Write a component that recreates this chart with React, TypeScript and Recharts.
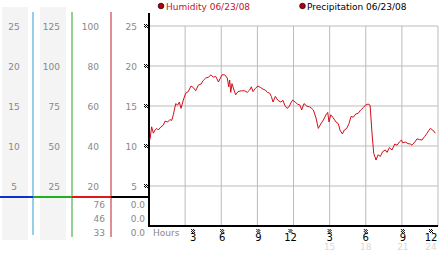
import React from 'react';
import { LineChart, Line, XAxis, YAxis, CartesianGrid, Customized } from 'recharts';

// humidity readings through the day: hour of day and value
const hours = [
  0.08, 0.22, 0.36, 0.5, 0.64, 0.77, 1.0, 1.19, 1.33, 1.55, 1.74, 1.89, 2.02, 2.22, 2.38, 2.52,
  2.66, 2.85, 3.05, 3.26, 3.49, 3.68, 3.88, 4.09, 4.32, 4.51, 4.71, 4.93, 5.15, 5.34, 5.54, 5.77,
  6.06, 6.29, 6.5, 6.62, 6.7, 6.79, 6.89, 7.06, 7.2, 7.39, 7.67, 7.95, 8.16, 8.36, 8.5, 8.64,
  8.83, 9.05, 9.28, 9.47, 9.66, 9.83, 10.02, 10.16, 10.3, 10.49, 10.71, 10.94, 11.13, 11.27, 11.46, 11.63,
  11.82, 11.94, 12.13, 12.32, 12.54, 12.68, 12.87, 13.1, 13.31, 13.51, 13.65, 13.87, 14.06, 14.26, 14.48, 14.7,
  14.84, 14.95, 15.09, 15.31, 15.53, 15.72, 15.86, 16.06, 16.22, 16.42, 16.61, 16.78, 16.97, 17.17, 17.38, 17.58,
  17.8, 17.97, 18.19, 18.36, 18.52, 18.66, 18.85, 19.02, 19.21, 19.41, 19.63, 19.77, 19.96, 20.18, 20.41, 20.6,
  20.79, 20.96, 21.07, 21.29, 21.51, 21.7, 21.84, 22.07, 22.26, 22.45, 22.67, 22.9, 23.09, 23.36, 23.56, 23.78,
];
const humidity = [
  10.8, 12.4, 11.6, 12.0, 12.2, 12.0, 12.4, 12.6, 13.1, 13.0, 13.3, 13.2, 13.9, 15.3, 15.1, 15.5,
  14.7, 15.75, 16.6, 16.8, 17.5, 17.3, 16.9, 17.6, 17.75, 18.2, 18.5, 18.6, 18.9, 18.6, 18.7, 18.0,
  18.9, 18.9, 18.5, 17.4, 18.25, 16.7, 17.8, 17.0, 16.4, 16.8, 16.9, 16.9, 16.7, 17.0, 17.4, 16.8,
  17.2, 17.5, 17.3, 17.1, 17.0, 16.7, 16.6, 16.2, 15.5, 16.2, 15.7, 15.5, 15.7, 15.1, 14.7, 14.9,
  15.5, 15.75, 15.5, 15.25, 15.1, 14.5, 15.3, 15.0, 14.9, 14.7, 14.5, 13.5, 12.2, 12.75, 13.25, 13.9,
  14.2, 13.0, 13.9, 13.5, 13.0, 12.8, 12.0, 11.5, 12.0, 12.2, 12.8, 13.7, 13.6, 14.0, 14.1, 14.5,
  14.8, 15.1, 15.25, 15.1, 11.6, 9.1, 8.25, 8.9, 8.7, 9.3, 9.5, 9.2, 9.8, 9.5, 10.25, 10.1,
  10.5, 10.75, 10.4, 10.5, 10.3, 10.25, 10.1, 10.5, 10.9, 10.8, 10.75, 11.2, 11.6, 12.2, 12.0, 11.6,
];

const xTicks = [3, 6, 9, 12, 15, 18, 21, 24];
const xTickLabels = ['3', '6', '9', '12', '3', '6', '9', '12'];
const xSubLabels = ['', '', '', '', '15', '18', '21', '24'];
const xLabelShift = [8, 1, 1, -3, 0, 0, 1, -7];

const ticksA = [5, 10, 15, 20, 25];
const ticksB = [25, 50, 75, 100, 125];
const ticksC = [20, 40, 60, 80, 100];
const ticksD = [5, 10, 15, 20, 25];

const humidityStats = ['76', '46', '33'];
const precipStats = ['0.0', '0.0', '0.0'];

const data = hours.map((h, i) => ({ h, humidity: humidity[i] }));

const FONT = '"DejaVu Sans", Verdana, sans-serif';

const Checker = ({ x, y }: { x: number; y: number }) => {
  const cells = [];
  for (let r = 0; r < 4; r++) {
    for (let c = 0; c < 4; c++) {
      if ((r + c) % 2 === 0) {
        cells.push(<rect key={`${r}-${c}`} x={x - 2 + c} y={y - 2 + r} width={1} height={1} fill="#000" />);
      }
    }
  }
  return <g>{cells}</g>;
};

const leftTick = (colX: number, anchor: 'middle' | 'end', marker = false) => (p: any) => (
  <g>
    <text x={colX} y={p.y + 3.5} textAnchor={anchor} fontSize={9} fill="#888" fontFamily={FONT}>
      {p.payload.value}
    </text>
    {marker && <Checker x={146} y={p.y} />}
  </g>
);

const HourTick = (p: any) => {
  const i = xTicks.indexOf(p.payload.value);
  const x = p.x + xLabelShift[i];
  return (
    <g>
      <Checker x={x} y={231} />
      <text x={x} y={241} textAnchor="middle" fontSize={10} fill="#000" fontFamily={FONT}>
        {xTickLabels[i]}
      </text>
      <text x={x} y={250} textAnchor="middle" fontSize={9} fill="#d8d8d8" fontFamily={FONT}>
        {xSubLabels[i]}
      </text>
    </g>
  );
};

const Decor = () => (
  <g fontFamily={FONT}>
    {/* legend */}
    <circle cx={161} cy={6} r={2.8} fill="#b00010" stroke="#300" strokeWidth={0.8} />
    <text x={166} y={10} fontSize={9} fill="#c8102e">Humidity 06/23/08</text>
    <circle cx={302.5} cy={6} r={2.8} fill="#b00010" stroke="#300" strokeWidth={0.8} />
    <text x={307} y={10} fontSize={9} fill="#000">Precipitation 06/23/08</text>

    {/* coloured scale lines */}
    <line x1={33} y1={12} x2={33} y2={235} stroke="#2a9fd0" strokeWidth={1} />
    <line x1={72} y1={12} x2={72} y2={237} stroke="#2aa02a" strokeWidth={1} />
    <line x1={111} y1={12} x2={111} y2={237} stroke="#c0202a" strokeWidth={1} />
    <line x1={0} y1={197} x2={33} y2={197} stroke="#1030d0" strokeWidth={2} />
    <line x1={33} y1={197} x2={72} y2={197} stroke="#20b020" strokeWidth={2} />
    <line x1={72} y1={197} x2={111} y2={197} stroke="#e01818" strokeWidth={2} />
    <line x1={111} y1={197} x2={149} y2={197} stroke="#000" strokeWidth={2} />
    <line x1={149} y1={13} x2={149} y2={227} stroke="#000" strokeWidth={2} />

    {/* min / max table */}
    {humidityStats.map((v, i) => (
      <text key={`h${i}`} x={105} y={208 + i * 14} textAnchor="end" fontSize={9} fill="#888">{v}</text>
    ))}
    {precipStats.map((v, i) => (
      <text key={`p${i}`} x={145} y={208 + i * 14} textAnchor="end" fontSize={9} fill="#888">{v}</text>
    ))}
    <text x={153} y={236} fontSize={9} fill="#888">Hours</text>
  </g>
);

export default function App() {
  return (
    <div style={{ position: 'absolute', left: 0, top: 0, width: 442, height: 253, background: '#fff' }}>
      <svg width={442} height={253} style={{ position: 'absolute', left: 0, top: 0 }}>
        <rect x={2} y={7} width={26} height={233} fill="#f4f4f4" />
        <rect x={40} y={7} width={26} height={233} fill="#f4f4f4" />
      </svg>
      <div style={{ position: 'absolute', left: 0, top: 0 }}>
        <LineChart width={442} height={253} data={data} margin={{ top: 26, right: 4, bottom: 0, left: 0 }}>
          <CartesianGrid yAxisId="d" stroke="#bbb" strokeWidth={1} />
          <XAxis
            dataKey="h"
            type="number"
            domain={[0, 24]}
            ticks={xTicks}
            height={27}
            axisLine={{ stroke: '#000', strokeWidth: 2 }}
            tickLine={false}
            tick={HourTick}
            interval={0}
          />
          <YAxis yAxisId="d" width={38} domain={[0, 25]} ticks={ticksD} axisLine={false} tickLine={false} tick={leftTick(137, 'end', true)} />
          <YAxis yAxisId="c" width={39} domain={[0, 100]} ticks={ticksC} axisLine={false} tickLine={false} tick={leftTick(99, 'end')} allowDataOverflow />
          <YAxis yAxisId="b" width={39} domain={[0, 125]} ticks={ticksB} axisLine={false} tickLine={false} tick={leftTick(60, 'end')} allowDataOverflow />
          <YAxis yAxisId="a" width={33} domain={[0, 25]} ticks={ticksA} axisLine={false} tickLine={false} tick={leftTick(14, 'middle')} allowDataOverflow />
          {/* transparent companions so the extra scales get drawn */}
          <Line yAxisId="c" dataKey="humidity" stroke="none" dot={false} activeDot={false} isAnimationActive={false} />
          <Line yAxisId="b" dataKey="humidity" stroke="none" dot={false} activeDot={false} isAnimationActive={false} />
          <Line yAxisId="a" dataKey="humidity" stroke="none" dot={false} activeDot={false} isAnimationActive={false} />
          <Line
            yAxisId="d"
            type="linear"
            dataKey="humidity"
            stroke="#d0101a"
            strokeWidth={1}
            dot={false}
            isAnimationActive={false}
          />
          <Customized component={Decor} />
        </LineChart>
      </div>
    </div>
  );
}
